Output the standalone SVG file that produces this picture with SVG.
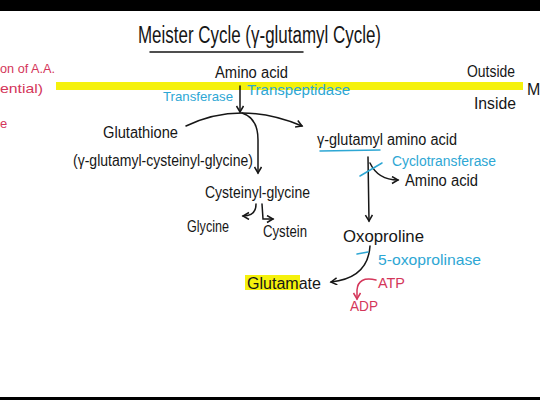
<svg xmlns="http://www.w3.org/2000/svg" width="540" height="400" viewBox="0 0 540 400">
<defs>
<style>
text{font-family:"Liberation Sans","DejaVu Sans",sans-serif;}
.k{fill:#161616;font-size:16px;}
.c{fill:#2ea7d4;font-size:13px;}
.r{fill:#d4365a;font-size:13px;}
.ln{fill:none;stroke:#161616;stroke-width:1.5;stroke-linecap:round;}
.cl{fill:none;stroke:#2ea7d4;stroke-width:1.5;stroke-linecap:round;}
.rl{fill:none;stroke:#d4365a;stroke-width:1.5;stroke-linecap:round;}
</style>
<marker id="ah" markerWidth="10" markerHeight="10" refX="7" refY="4" orient="auto" markerUnits="userSpaceOnUse">
<path d="M1,0.5 L7,4 L1,7.5" fill="none" stroke="#161616" stroke-width="1.5"/>
</marker>
<marker id="ahr" markerWidth="10" markerHeight="10" refX="7" refY="4" orient="auto" markerUnits="userSpaceOnUse">
<path d="M1,0.5 L7,4 L1,7.5" fill="none" stroke="#d4365a" stroke-width="1.5"/>
</marker>
</defs>
<rect x="0" y="0" width="540" height="400" fill="#ffffff"/>
<rect x="0" y="0" width="540" height="11" fill="#000000"/>
<rect x="0" y="397" width="540" height="3" fill="#000000"/>
<rect x="56" y="82" width="467" height="8" fill="#f5f10c"/>
<rect x="245" y="275" width="55" height="15" fill="#f5f10c"/>

<g id="title">
<text class="k" x="138" y="43" style="font-size:23px" textLength="243" lengthAdjust="spacingAndGlyphs">Meister Cycle (γ-glutamyl Cycle)</text>
<line class="ln" x1="150" y1="52" x2="303" y2="52"/>
</g>
<g id="side-notes">
<text class="r" x="0" y="73" textLength="55" lengthAdjust="spacingAndGlyphs">on of A.A.</text>
<text class="r" x="0" y="93" textLength="43" lengthAdjust="spacingAndGlyphs">ential)</text>
<text class="r" x="0" y="128">e</text>
<text class="k" x="467" y="77" textLength="48" lengthAdjust="spacingAndGlyphs">Outside</text>
<text class="k" x="474" y="109" textLength="42" lengthAdjust="spacingAndGlyphs">Inside</text>
<text class="k" x="527" y="95">M</text>
</g>
<g id="amino-acid-out"><text class="k" x="215" y="78" textLength="73" lengthAdjust="spacingAndGlyphs">Amino acid</text></g>
<g id="enzyme-1">
<text class="c" x="163" y="101" textLength="70" lengthAdjust="spacingAndGlyphs">Transferase</text>
<text class="c" x="247" y="95" style="font-size:14px" textLength="103" lengthAdjust="spacingAndGlyphs">Transpeptidase</text>
</g>
<g id="glutathione">
<text class="k" x="103" y="138" textLength="75" lengthAdjust="spacingAndGlyphs">Glutathione</text>
<text class="k" x="73" y="166" textLength="180" lengthAdjust="spacingAndGlyphs">(γ-glutamyl-cysteinyl-glycine)</text>
</g>
<g id="cysteinyl-glycine"><text class="k" x="205" y="198" textLength="105" lengthAdjust="spacingAndGlyphs">Cysteinyl-glycine</text></g>
<g id="glycine"><text class="k" x="187" y="232" textLength="42" lengthAdjust="spacingAndGlyphs">Glycine</text></g>
<g id="cystein"><text class="k" x="263" y="237" textLength="44" lengthAdjust="spacingAndGlyphs">Cystein</text></g>
<g id="gamma-glutamyl-aa">
<text class="k" x="317" y="145" textLength="140" lengthAdjust="spacingAndGlyphs">γ-glutamyl amino acid</text>
<line class="cl" x1="320" y1="151" x2="380" y2="150"/>
</g>
<g id="enzyme-2"><text class="c" x="392" y="166" style="font-size:14px" textLength="104" lengthAdjust="spacingAndGlyphs">Cyclotransferase</text></g>
<g id="amino-acid-in"><text class="k" x="405" y="186" textLength="73" lengthAdjust="spacingAndGlyphs">Amino acid</text></g>
<g id="oxoproline"><text class="k" x="343" y="242" textLength="81" lengthAdjust="spacingAndGlyphs">Oxoproline</text></g>
<g id="enzyme-3"><text class="c" x="378" y="265" style="font-size:15px" textLength="103" lengthAdjust="spacingAndGlyphs">5-oxoprolinase</text></g>
<g id="glutamate"><text class="k" x="247" y="289" textLength="74" lengthAdjust="spacingAndGlyphs">Glutamate</text></g>
<g id="atp"><text class="r" x="378" y="288" style="font-size:14px" textLength="27" lengthAdjust="spacingAndGlyphs">ATP</text></g>
<g id="adp"><text class="r" x="350" y="311" style="font-size:14px" textLength="28" lengthAdjust="spacingAndGlyphs">ADP</text></g>

<g id="connectors">
<path class="ln" d="M240,86 L240,112" marker-end="url(#ah)"/>
<path class="ln" d="M186,126 Q240,100 302,126" marker-end="url(#ah)"/>
<path class="ln" d="M242,113 Q258,118 258,140 L258,173" marker-end="url(#ah)"/>
<path class="ln" d="M256,204 Q256,216 243,216" marker-end="url(#ah)"/>
<path class="ln" d="M262,204 L263,219 L273,219" marker-end="url(#ah)"/>
<path class="ln" d="M368,157 L369,221" marker-end="url(#ah)"/>
<path class="ln" d="M370,163 Q378,180 398,180" marker-end="url(#ah)"/>
<line class="cl" x1="360" y1="176" x2="382" y2="163"/>
<path class="ln" d="M370,246 Q368,278 331,282" marker-end="url(#ah)"/>
<line class="cl" x1="357" y1="254" x2="368" y2="252"/>
<path class="rl" d="M376,280 Q358,276 357,290 L357,299" marker-end="url(#ahr)"/>
</g>
</svg>
